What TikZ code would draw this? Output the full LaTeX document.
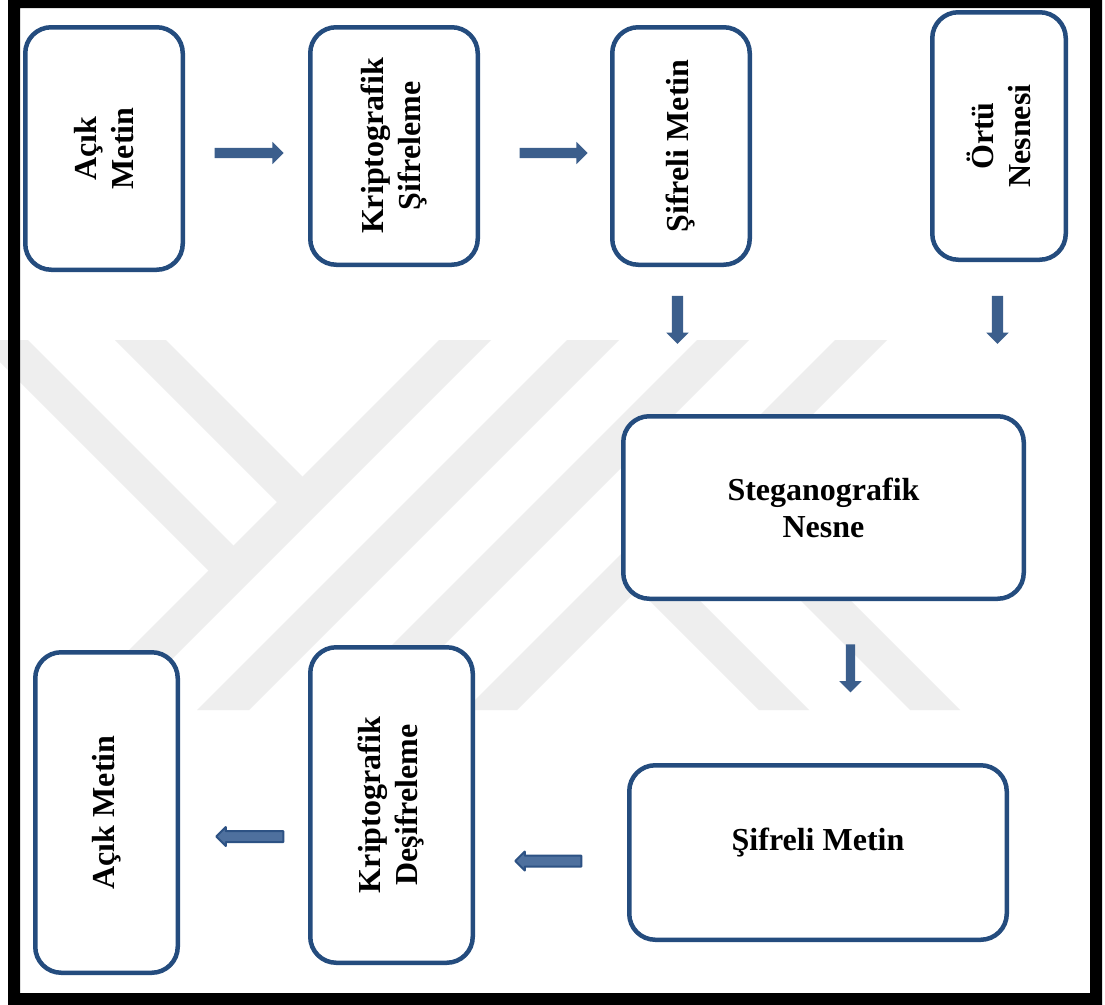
\documentclass[tikz,border=0pt]{standalone}
\usepackage{fontspec}
\setmainfont{Liberation Serif}
\usetikzlibrary{shapes.arrows}

\definecolor{boxblue}{RGB}{36,76,126}
\definecolor{arrowblue}{RGB}{59,94,140}
\definecolor{arrowedge}{RGB}{45,82,132}
\definecolor{arrowlight}{RGB}{78,112,158}
\definecolor{markgray}{RGB}{238,238,238}

\tikzset{
  stepbox/.style={draw=boxblue, line width=4.5pt, rounded corners=26pt, fill=white, inner sep=0pt},
  boxtext/.style={font=\fontsize{32}{37}\selectfont\bfseries, align=center, inner sep=0pt},
  vboxtext/.style={boxtext, rotate=90},
  blockarrow/.style={single arrow, fill=arrowblue, draw=none, inner sep=5pt, outer sep=0pt,
    single arrow head extend=6pt, minimum height=69pt},
  downarrow/.style={blockarrow, shape border rotate=270, inner sep=5.5pt,
    single arrow head extend=5.5pt, minimum height=48pt},
  leftarrow/.style={blockarrow, shape border rotate=180, draw=arrowedge, line width=2pt,
    fill=arrowlight, inner sep=4.5pt, single arrow head extend=4pt, minimum height=67pt}
}

\begin{document}
\begin{tikzpicture}[x=1pt, y=-1pt, line cap=round, line join=round]
  \useasboundingbox (0,0) rectangle (1105,1004);
  \fill[white] (0,0) rectangle (1105,1004);

  % watermark
  \foreach \xa in {439,567,697,835}
    \fill[markgray] (\xa,340) -- ++(52,0) -- ++(-370,370) -- ++(-52,0) -- cycle;
  \fill[markgray] (-22,340) -- (28,340) -- (246,558) -- (221,583) -- cycle;
  \fill[markgray] (115,340) -- (166,340) -- (315,489) -- (289.5,514.5) -- cycle;
  \fill[markgray] (625,576) -- (650,551) -- (809,710) -- (759,710) -- cycle;
  \fill[markgray] (700.5,500.5) -- (725.5,475.5) -- (960,710) -- (910,710) -- cycle;

  % boxes
  \node[stepbox, minimum width=157.5pt, minimum height=242.5pt] (acik) at (104,148.5) {};
  \node[vboxtext] (acikT) at (acik) {Açık\\Metin};
  \node[stepbox, minimum width=167.5pt, minimum height=237.5pt] (sifreleme) at (394,146) {};
  \node[vboxtext] (sifrelemeT) at (sifreleme) {Kriptografik\\Şifreleme};
  \node[stepbox, minimum width=137.5pt, minimum height=237.5pt] (sifreli) at (681,146) {};
  \node[vboxtext] (sifreliT) at (sifreli) {Şifreli Metin};
  \node[stepbox, minimum width=133.5pt, minimum height=247.5pt] (ortu) at (999,136) {};
  \node[vboxtext] (ortuT) at (ortu) {Örtü\\Nesnesi};
  \node[stepbox, minimum width=400.5pt, minimum height=182.5pt] (stego) at (823.5,507.5) {};
  \node[boxtext] (stegoT) at (stego) {Steganografik\\Nesne};
  \node[stepbox, minimum width=377.5pt, minimum height=174.5pt] (sifreli2) at (818,852.5) {};
  \node[boxtext, anchor=base] (sifreli2T) at (818,850) {Şifreli Metin};
  \node[stepbox, minimum width=162.5pt, minimum height=315.5pt] (desifreleme) at (391.5,805) {};
  \node[vboxtext] (desifrelemeT) at (desifreleme) {Kriptografik\\Deşifreleme};
  \node[stepbox, minimum width=142.5pt, minimum height=320.5pt] (acik2) at (106.5,812.5) {};
  \node[vboxtext] (acik2T) at (acik2) {Açık Metin};

  % block arrows
  \node[blockarrow] (a1) at (246.5,153) {};
  \node[blockarrow, minimum height=68pt] (a2) at (551,153) {};
  \node[downarrow] (a3) at (677.5,317) {};
  \node[downarrow] (a4) at (997.5,317) {};
  \node[downarrow, inner sep=4.5pt, single arrow head extend=6.5pt] (a5) at (850.5,666) {};
  \node[leftarrow] (a6) at (252.5,836.5) {};
  \node[leftarrow, minimum height=66pt] (a7) at (551,861) {};

  % frame
  \fill[black, even odd rule] (8,-2) rectangle (1102,1006) (20,8) rectangle (1090,993);
\end{tikzpicture}
\end{document}
